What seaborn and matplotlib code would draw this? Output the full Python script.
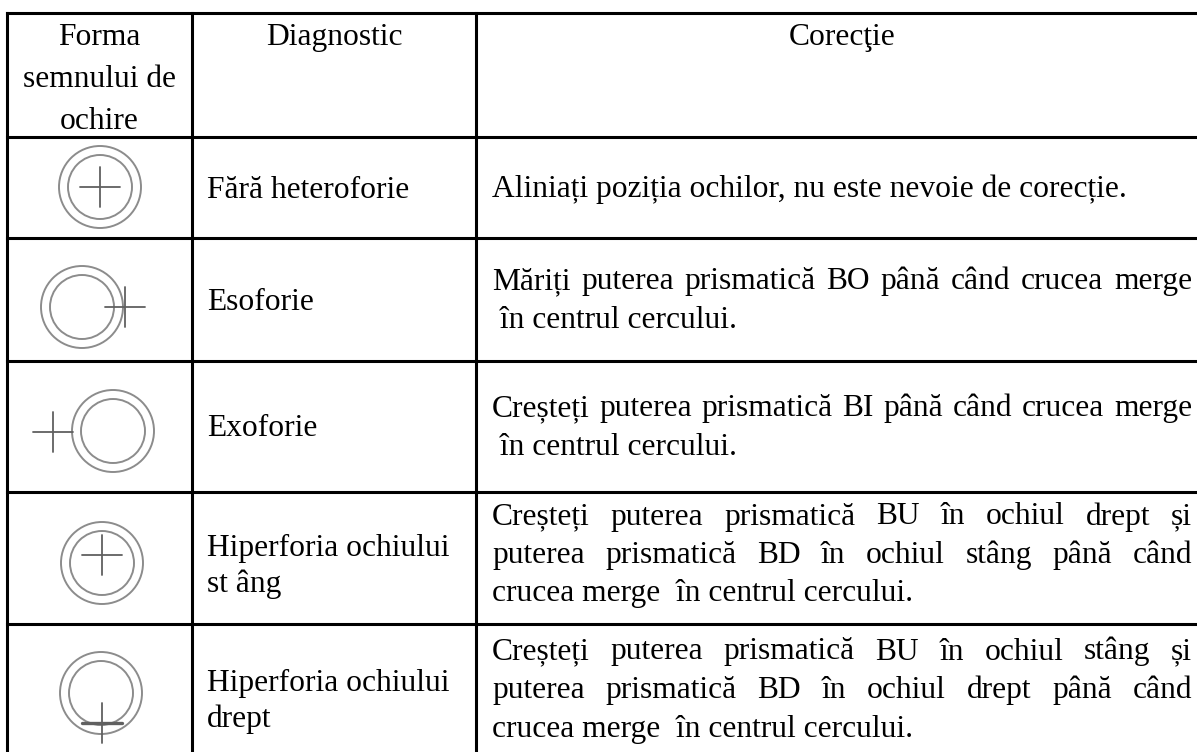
import numpy as np
import seaborn as sns
import matplotlib
matplotlib.use("Agg")
import matplotlib.pyplot as plt
from matplotlib.patches import Circle

# table content
header_col1 = ["Forma", "semnului de", "ochire"]
header_col2 = "Diagnostic"
header_col3 = "Corecţie"

diagnostics = [
    ["Fără heteroforie"],
    ["Esoforie"],
    ["Exoforie"],
    ["Hiperforia ochiului", "st âng"],
    ["Hiperforia ochiului", "drept"],
]

corrections = [
    ["Aliniați poziția ochilor, nu este nevoie de corecție."],
    ["Măriți puterea prismatică BO până când crucea merge",
     " în centrul cercului."],
    ["Creșteți puterea prismatică BI până când crucea merge",
     " în centrul cercului."],
    ["Creșteți puterea prismatică BU în ochiul drept și",
     "puterea prismatică BD în ochiul stâng până când",
     "crucea merge  în centrul cercului."],
    ["Creșteți puterea prismatică BU în ochiul stâng și",
     "puterea prismatică BD în ochiul drept până când",
     "crucea merge  în centrul cercului."],
]

# where the cross sits relative to the double circle (px), per diagnostic
cross_dx = [0, 43, -60, 0, 1]
cross_dy = [0, 0, 1, -8, 30]

# layout (pixels)
W, H = 1197, 752
col_x = [7, 192, 476]
row_y = [13, 137, 238, 361, 492, 624, 762]
icon_cx = [100, 82, 113, 102, 101]
icon_cy = [187, 307, 431, 563, 693]
FS = 22.7
LINE = 38.5
pad = 15
text_right = 1192

sns.set_theme(style="white")
plt.rcParams["font.family"] = ["Liberation Serif", "DejaVu Serif"]

fig = plt.figure(figsize=(W / 100, H / 100), dpi=100)
ax = fig.add_axes([0, 0, 1, 1])
ax.set_xlim(0, W)
ax.set_ylim(H, 0)
ax.axis("off")

# grid
lw = 2.2
for y in row_y[:-1]:
    ax.plot([col_x[0], W + 5], [y, y], color="black", lw=lw, solid_capstyle="projecting")
for x in col_x:
    ax.plot([x, x], [row_y[0], H + 5], color="black", lw=lw, solid_capstyle="projecting")

# header
for i, t in enumerate(header_col1):
    ax.text((col_x[0] + col_x[1]) / 2, 45 + i * 42, t, fontsize=FS,
            ha="center", va="baseline", color="black")
ax.text((col_x[1] + col_x[2]) / 2, 45, header_col2, fontsize=FS,
        ha="center", va="baseline", color="black")
ax.text(842, 45, header_col3, fontsize=FS, ha="center", va="baseline", color="black")

fig.canvas.draw()
renderer = fig.canvas.get_renderer()


def text_width(s):
    t = ax.text(0, 0, s, fontsize=FS)
    w = t.get_window_extent(renderer).width
    t.remove()
    return w


def justified(line, x0, x1, y):
    words = line.split()
    widths = [text_width(w) for w in words]
    gap = (x1 - x0 - sum(widths)) / (len(words) - 1)
    x = x0
    for w, wd in zip(words, widths):
        ax.text(x, y, w, fontsize=FS, ha="left", va="baseline", color="black")
        x += wd + gap


for r in range(5):
    center = (row_y[r + 1] + row_y[r + 2]) / 2

    # diagnostic column
    lines = diagnostics[r]
    n = len(lines)
    step = 36 if n > 1 else LINE
    off = 16 if n > 1 else 10
    for i, t in enumerate(lines):
        y = center + (i - (n - 1) / 2) * step + off
        ax.text(col_x[1] + pad, y, t, fontsize=FS, ha="left", va="baseline", color="black")

    # correction column
    lines = corrections[r]
    n = len(lines)
    off = 5 if n > 2 else 9
    for i, t in enumerate(lines):
        y = center + (i - (n - 1) / 2) * LINE + off
        if n > 1 and i < n - 1:
            justified(t, col_x[2] + 16, text_right, y)
        else:
            ax.text(col_x[2] + 16, y, t, fontsize=FS, ha="left", va="baseline", color="black")

    # sight mark icon
    cx, cy = icon_cx[r], icon_cy[r]
    ax.add_patch(Circle((cx, cy), 41, fill=False, ec="#8c8c8c", lw=1.4))
    ax.add_patch(Circle((cx, cy), 32, fill=False, ec="#8c8c8c", lw=1.4))
    kx, ky = cx + cross_dx[r], cy + cross_dy[r]
    hlw = 2.4 if r == 4 else 1.3
    ax.plot([kx - 20, kx + 20], [ky, ky], color="#606060", lw=hlw)
    ax.plot([kx, kx], [ky - 20, ky + 20], color="#606060", lw=1.3)

fig.savefig("out.png", dpi=100)
